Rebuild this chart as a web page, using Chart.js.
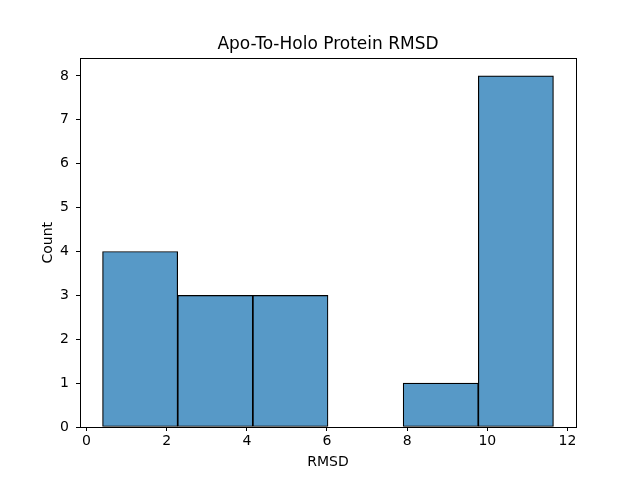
<!DOCTYPE html>
<html>
<head>
<meta charset="utf-8">
<script src="https://cdn.jsdelivr.net/npm/chart.js@4"></script>
<style>
    html, body { margin: 0; padding: 0; background: #fff; }
    #wrap { width: 640px; height: 480px; }
</style>
</head>
<body>
<div id="wrap"><canvas id="histChart" width="640" height="480"></canvas></div>
<script>
// Histogram data
const binEdges = [0.4, 2.275, 4.15, 6.025, 7.9, 9.775, 11.65];
const counts = [4, 3, 3, 0, 1, 8];
const xTicks = [0, 2, 4, 6, 8, 10, 12];
const yTicks = [0, 1, 2, 3, 4, 5, 6, 7, 8];

const barPoints = counts.map((c, i) => ({ x: (binEdges[i] + binEdges[i + 1]) / 2, y: c }));

// axes frame (matplotlib style box)
const frame = {
    id: 'frame',
    afterDraw(chart) {
        const { ctx, chartArea: a } = chart;
        ctx.save();
        ctx.strokeStyle = '#000';
        ctx.lineWidth = 1;
        ctx.strokeRect(Math.round(a.left) + 0.5, Math.round(a.top) + 0.5,
            Math.round(a.right - a.left), Math.round(a.bottom - a.top));
        ctx.restore();
    }
};

const font = "'DejaVu Sans', sans-serif";

new Chart(document.getElementById('histChart'), {
    type: 'bar',
    data: {
        datasets: [{
            data: barPoints,
            backgroundColor: 'rgb(87, 153, 199)',
            borderColor: '#000',
            borderWidth: 1.2,
            borderSkipped: false,
            barPercentage: 1,
            categoryPercentage: 1
        }]
    },
    options: {
        responsive: false,
        animation: false,
        layout: { padding: { left: 0, right: 64, top: 0, bottom: 0 } },
        plugins: {
            legend: { display: false },
            tooltip: { enabled: false },
            title: {
                display: true,
                fullSize: false,
                text: 'Apo-To-Holo Protein RMSD',
                color: '#000',
                font: { family: font, size: 17, weight: 'normal' },
                padding: { top: 34, bottom: 4 }
            }
        },
        scales: {
            x: {
                type: 'linear',
                offset: false,
                min: -0.1625,
                max: 12.2125,
                afterFit: s => { s.height = 53; },
                afterBuildTicks: s => { s.ticks = xTicks.map(v => ({ value: v })); },
                grid: { offset: false, drawOnChartArea: false, drawTicks: true, tickLength: 4, tickColor: '#000' },
                border: { color: '#000' },
                ticks: { color: '#000', font: { family: font, size: 14 }, padding: 2, maxRotation: 0, autoSkip: false },
                title: {
                    display: true, text: 'RMSD', color: '#000',
                    font: { family: font, size: 14 }, padding: { top: 0, bottom: 9.6 }
                }
            },
            y: {
                min: 0,
                max: 8.4,
                afterFit: s => { s.width = 80; },
                afterBuildTicks: s => { s.ticks = yTicks.map(v => ({ value: v })); },
                grid: { drawOnChartArea: false, drawTicks: true, tickLength: 4, tickColor: '#000' },
                border: { color: '#000' },
                ticks: { color: '#000', font: { family: font, size: 14 }, padding: 7, autoSkip: false },
                title: {
                    display: true, text: 'Count', color: '#000',
                    font: { family: font, size: 14 }, padding: { top: 39.6, bottom: 0 }
                }
            }
        }
    },
    plugins: [frame]
});
</script>
</body>
</html>
